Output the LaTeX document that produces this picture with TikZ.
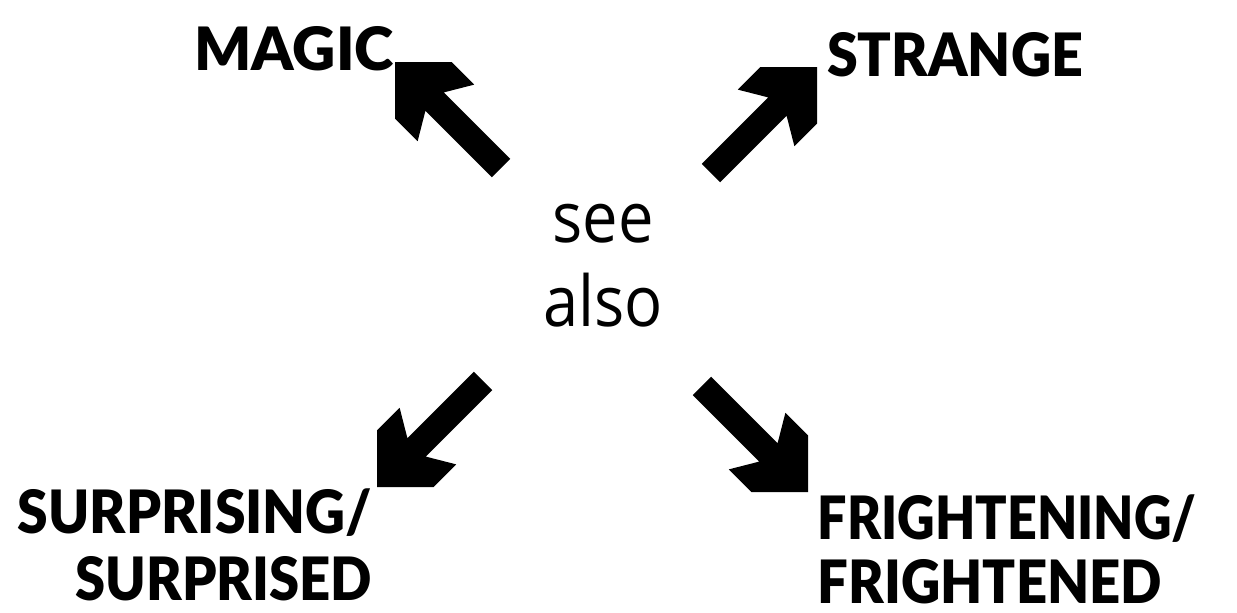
\documentclass[tikz,border=0pt]{standalone}
\usepackage{fontspec}
\setmainfont{Open Sans}[FakeStretch=0.9]
\newfontfamily\heavy{Lato Black}
\newcommand\squeeze[2]{{\addfontfeatures{FakeStretch=#1}#2}}
\begin{document}
\begin{tikzpicture}[x=0.01cm,y=-0.01cm,
  lab/.style={font=\heavy\fontsize{17}{19}\selectfont, inner sep=0pt, text=black},
  mid/.style={font=\fontsize{20}{24}\selectfont, inner sep=0pt, align=center},
  bigarrow/.style={fill=black}]
\useasboundingbox (0,0) rectangle (1237,612);
\node[mid, anchor=north] (see) at (603,203) {see\\also};
\node[lab] (magic) at (294,49) {MAGIC};
\node[lab] (strange) at (955,55) {\squeeze{0.93}{STRANGE}};
\node[lab, align=right, anchor=north east] (surp) at (373,488) {\squeeze{0.925}{SURPRISING/}\\\squeeze{0.91}{SURPRISED}};
\node[lab, font=\heavy\fontsize{17}{18.3}\selectfont, align=left, anchor=north west] (fright) at (817,494) {\squeeze{0.87}{FRIGHTENING/}\\\squeeze{0.91}{FRIGHTENED}};
\coordinate (tm) at (395,62);
\coordinate (ts) at (817,67);
\coordinate (tl) at (377,487);
\coordinate (tr) at (808,492);
\foreach \t/\a in {tm/135, ts/45, tl/225, tr/-45}{
  \fill[bigarrow, shift={(\t)}, rotate=\a]
    (0,0) -- (-40,40) -- (-72,40) -- (-56,13) -- (-150,13) -- (-150,-13)
    -- (-56,-13) -- (-72,-40) -- (-40,-40) -- cycle;
}
\end{tikzpicture}
\end{document}
